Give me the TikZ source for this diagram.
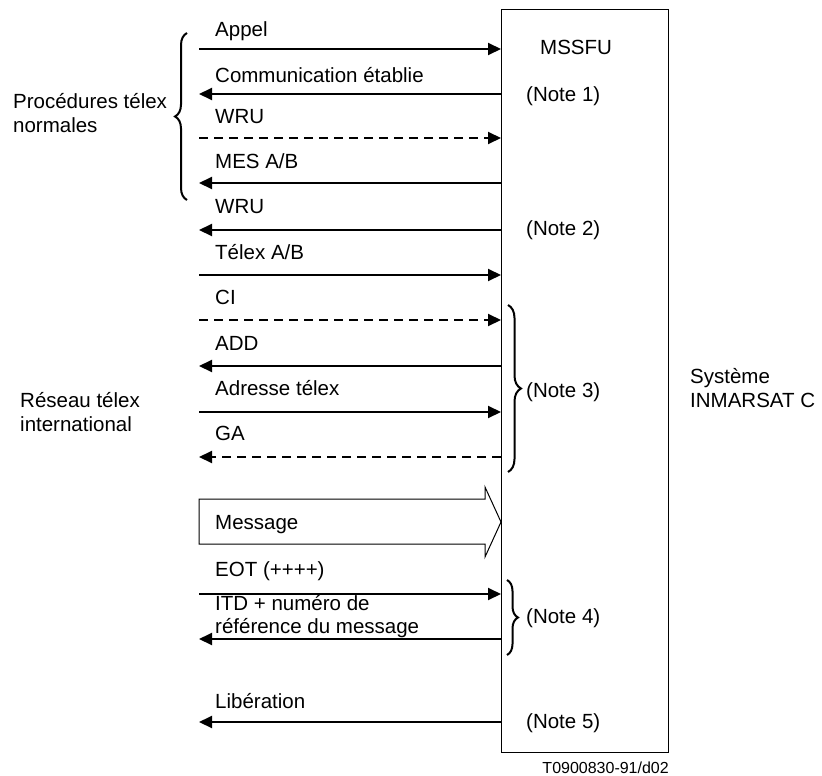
\documentclass[tikz,border=0pt]{standalone}
\usepackage{fontspec}
\setmainfont{Liberation Sans}
\usetikzlibrary{arrows.meta,decorations.pathreplacing}
\begin{document}
\begin{tikzpicture}[x=1pt,y=-1pt,
  lbl/.style={anchor=base west, inner sep=0pt, font=\fontsize{20.5}{24}\selectfont},
  sig/.style={line width=2pt, -{Triangle[length=13pt,width=12pt]}},
  dsh/.style={dash pattern=on 9pt off 6pt},
  brc/.style={decorate, decoration={brace, amplitude=#1}, line width=2pt},
]
\useasboundingbox (0,0) rectangle (822,776);

% main box
\node[draw, line width=1pt, minimum width=167pt, minimum height=742pt,
      inner sep=0pt, outer sep=0pt, anchor=north west] (box) at (501,10) {};

% left free ends
\coordinate (s1) at (199,49);
\coordinate (s2) at (199,94);
\coordinate (s3) at (199,138);
\coordinate (s4) at (199,183);
\coordinate (s5) at (199,230);
\coordinate (s6) at (199,275);
\coordinate (s7) at (199,320);
\coordinate (s8) at (199,366);
\coordinate (s9) at (199,412);
\coordinate (s10) at (199,457);
\coordinate (s11) at (199,594);
\coordinate (s12) at (199,639);
\coordinate (s13) at (199,722);

% arrows
\draw[sig] (s1) -- (s1 -| box.west);
\draw[sig] (s2 -| box.west) -- (s2);
\draw[sig,dsh] (s3) -- (s3 -| box.west);
\draw[sig] (s4 -| box.west) -- (s4);
\draw[sig] (s5 -| box.west) -- (s5);
\draw[sig] (s6) -- (s6 -| box.west);
\draw[sig,dsh] (s7) -- (s7 -| box.west);
\draw[sig] (s8 -| box.west) -- (s8);
\draw[sig] (s9) -- (s9 -| box.west);
\draw[sig,dsh] (s10 -| box.west) -- (s10);
\draw[sig] (s11) -- (s11 -| box.west);
\draw[sig] (s12 -| box.west) -- (s12);
\draw[sig] (s13 -| box.west) -- (s13);

% big message arrow
\draw[line width=1pt] (199,499) -- (485,499) -- (485,487) -- (box.west |- 0,522)
  -- (485,557) -- (485,544) -- (199,544) -- cycle;

% signal labels
\node[lbl] (t1) at (215,37) {Appel};
\node[lbl] (t2) at (215,83) {Communication établie};
\node[lbl] (t3) at (215,123) {WRU};
\node[lbl] (t4) at (215,168) {MES A/B};
\node[lbl] (t5) at (215,213) {WRU};
\node[lbl] (t6) at (215,259) {Télex A/B};
\node[lbl] (t7) at (215,304) {CI};
\node[lbl] (t8) at (215,350) {ADD};
\node[lbl] (t9) at (215,395) {Adresse télex};
\node[lbl] (t10) at (215,440) {GA};
\node[lbl] (t11) at (215,529) {Message};
\node[lbl] (t12) at (215,576) {EOT (++++)};
\node[lbl] (t13a) at (215,610) {ITD + numéro de};
\node[lbl] (t13b) at (215,633) {référence du message};
\node[lbl] (t14) at (215,708) {Libération};

% box texts
\node[lbl] (mssfu) at (540,55) {MSSFU};
\node[lbl] (n1) at (526,101) {(Note 1)};
\node[lbl] (n2) at (526,235) {(Note 2)};
\node[lbl] (n3) at (526,397) {(Note 3)};
\node[lbl] (n4) at (526,623) {(Note 4)};
\node[lbl] (n5) at (526,728) {(Note 5)};

% braces
\draw[brc=12pt] (187,200) -- (187,33);
\draw[brc=13pt] (508,305) -- (508,472);
\draw[brc=11pt] (507,580) -- (507,655);

% side labels
\node[lbl] (p1) at (13,108) {Procédures télex};
\node[lbl] (p2) at (13,132) {normales};
\node[lbl] (r1) at (20,407) {Réseau télex};
\node[lbl] (r2) at (20,431) {international};
\node[lbl] (i1) at (690,383) {Système};
\node[lbl] (i2) at (690,407) {INMARSAT C};

\node[anchor=base east, inner sep=0pt, font=\fontsize{16}{18}\selectfont] (ref) at (669,773) {T0900830-91/d02};
\end{tikzpicture}
\end{document}
